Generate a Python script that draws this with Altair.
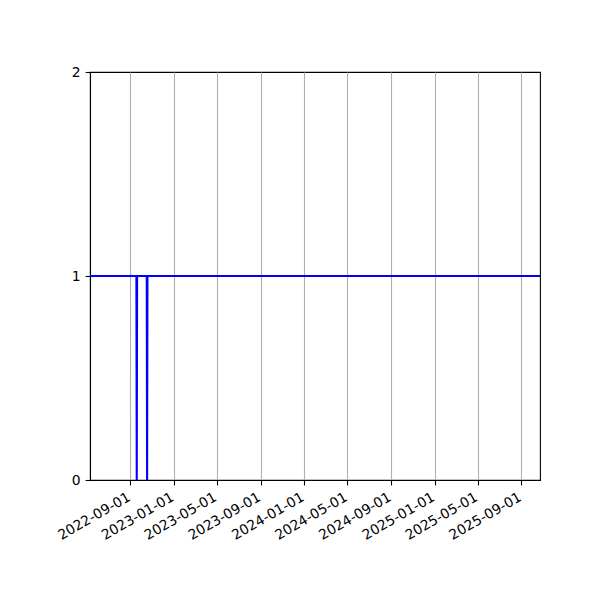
import altair as alt
import pandas as pd

dates = ["2022-05-11", "2022-09-18", "2022-09-19", "2022-09-20",
         "2022-10-17", "2022-10-18", "2022-10-19", "2025-10-23"]
values = [1, 1, 0, 1, 1, 0, 1, 1]

tick_dates = [(2022, 9), (2023, 1), (2023, 5), (2023, 9), (2024, 1),
              (2024, 5), (2024, 9), (2025, 1), (2025, 5), (2025, 9)]
y_ticks = [0, 1, 2]

df = pd.DataFrame({"date": dates, "value": values})

font = "DejaVu Sans"
fs = 13.9

x_axis = alt.Axis(
    values=[alt.DateTime(year=y, month=m, date=1, utc=True) for y, m in tick_dates],
    format="%Y-%m-%d", labelAngle=330, labelAlign="right", labelBaseline="top",
    labelOffset=-5, labelPadding=4.9, tickSize=4.9, tickWidth=1.1, tickColor="black",
    domainColor="black", domainWidth=1.1, labelColor="black", labelFont=font,
    labelFontSize=fs, labelFlush=False, labelOverlap=False, title=None,
    grid=True, gridColor="#b0b0b0", gridWidth=1.1,
)
y_axis = alt.Axis(
    values=y_ticks, format=".0f", labelPadding=4.9, tickSize=4.9, tickWidth=1.1,
    tickColor="black", domainColor="black", domainWidth=1.1, labelColor="black",
    labelFont=font, labelFontSize=fs, labelFlush=False, labelOverlap=False,
    labelBaseline="middle", title=None, grid=False,
)

chart = alt.Chart(df).mark_line(color="#0000ff", strokeWidth=2.08, clip=True).encode(
    x=alt.X("date:T", scale=alt.Scale(
        type="utc",
        domain=[alt.DateTime(year=2022, month=5, date=11, utc=True),
                alt.DateTime(year=2025, month=10, date=23, utc=True)]),
        axis=x_axis),
    y=alt.Y("value:Q", scale=alt.Scale(domain=[0, 2], nice=False, zero=False), axis=y_axis),
).properties(
    width=450, height=408,
    autosize=alt.AutoSizeParams(type="none"),
    padding={"left": 82, "top": 64, "right": 52, "bottom": 110},
).configure_view(stroke="black", strokeWidth=1.1)

chart.save("out.html", embed_options={"renderer": "svg", "actions": False})
